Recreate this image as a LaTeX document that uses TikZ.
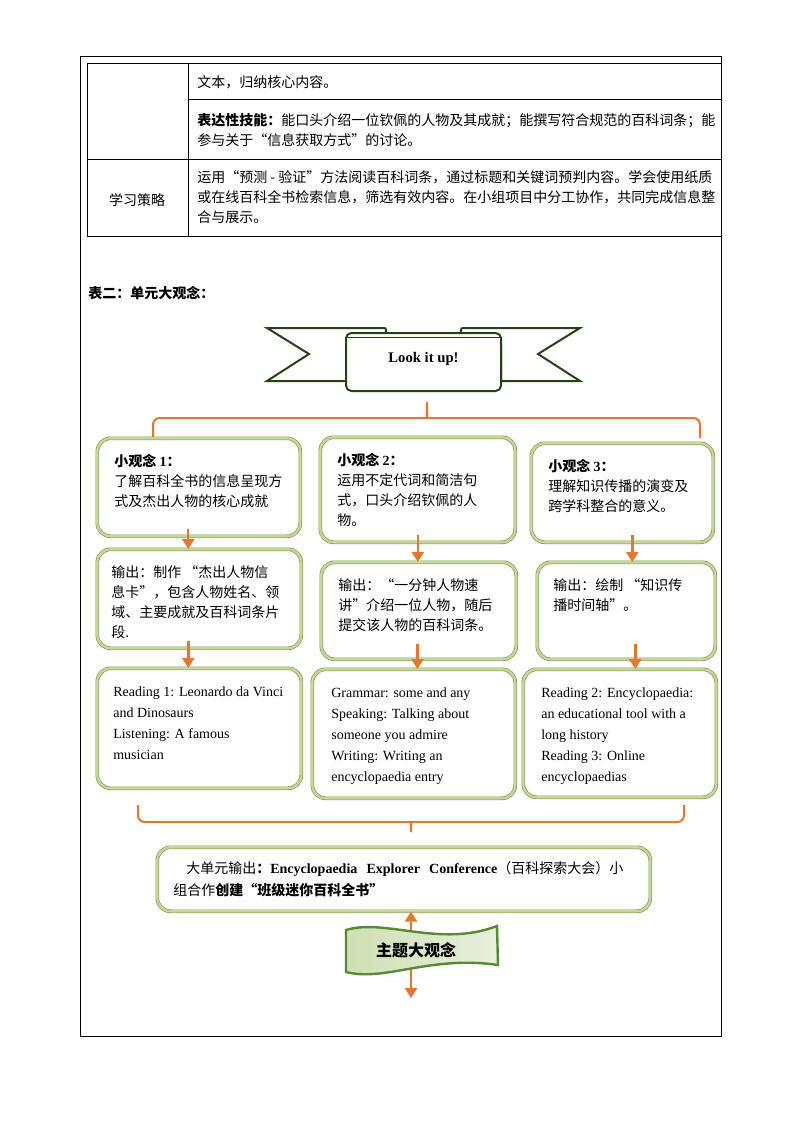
\documentclass[tikz,border=0pt]{standalone}
\usepackage{fontspec}
\setmainfont{Liberation Serif}
\newfontfamily\cjk{Noto Sans CJK SC}
\usetikzlibrary{arrows.meta}

\definecolor{brace}{RGB}{228,118,45}
\definecolor{boxdark}{RGB}{119,147,60}
\definecolor{boxlight}{RGB}{195,214,155}
\definecolor{ribbongreen}{RGB}{40,66,24}
\definecolor{waveline}{RGB}{88,138,52}
\definecolor{wavedark}{RGB}{206,224,178}
\definecolor{wavelight}{RGB}{232,239,222}

\tikzset{
  ideabox/.style={draw=boxdark, double=boxlight, double distance=1.8pt, line width=0.45pt,
    rounded corners=10pt, fill=white, anchor=north west, inner xsep=12.75pt, inner ysep=12pt},
  cjk text/.style={font=\cjk\fontsize{10.5}{15}\selectfont},
  latin text/.style={font=\fontsize{10.5}{15.75}\selectfont},
  body/.style={cjk text, inner sep=0pt, anchor=base west},
  flow/.style={draw=brace, line width=1.8pt, ->, shorten <=-6pt},
  bracket/.style={draw=brace, line width=1.5pt, rounded corners=5pt},
  ribbon/.style={draw=ribbongreen, line width=1.5pt, fill=white},
  tableline/.style={line width=0.75pt}
}
\newcommand{\boxlines}[3]{\parbox[t][#2][t]{#1}{\rule{0pt}{9.3pt}#3}}
\newcommand{\textlines}[1]{\parbox[t]{16cm}{#1}}

\begin{document}
\begin{tikzpicture}[x=0.75pt, y=-0.75pt, >={Triangle[width=9pt,length=7.5pt]}]
\useasboundingbox (0,0) rectangle (794,1123);

% page frame and table
\draw[tableline] (80,57) rectangle (721,1036);
\draw[tableline] (87,64) -- (721,64) (87,64) -- (87,237) (188,64) -- (188,237)
  (188,100) -- (721,100) (87,160) -- (721,160) (87,237) -- (721,237);

\node[body] (aim1) at (197,88) {文本，归纳核心内容。};
\node[body] (aim2) at (197,126) {\textlines{{\bfseries 表达性技能：}能口头介绍一位钦佩的人物及其成就；能撰写符合规范的百科词条；能\\参与关于“信息获取方式”的讨论。}};
\node[body] (method) at (197,183) {\textlines{运用“预测 - 验证”方法阅读百科词条，通过标题和关键词预判内容。学会使用纸质\\或在线百科全书检索信息，筛选有效内容。在小组项目中分工协作，共同完成信息整\\合与展示。}};
\node[cjk text, inner sep=0pt] (strategy) at (137,200) {学习策略};

\node[body] (title) at (88,298) {\bfseries 表二：单元大观念：};

% ribbon
\draw[ribbon] (267,328) -- (382,328) .. controls (386,328) .. (386,332) -- (386,345)
  -- (346,345) -- (346,381) -- (267,381) -- (309,354) -- cycle;
\draw[ribbon] (580,328) -- (465,328) .. controls (461,328) .. (461,332) -- (461,345)
  -- (501,345) -- (501,381) -- (580,381) -- (538,354) -- cycle;
\node[ribbon, rounded corners=4pt, minimum width=116.25pt, minimum height=43.5pt, inner sep=0pt,
  text height=7.5pt, text depth=7.5pt, font=\bfseries\fontsize{11}{13}\selectfont] (banner) at (423.5,362) {Look it up!};
\draw[draw=ribbongreen, line width=1.2pt] ([yshift=-4pt]banner.north west) -- ([yshift=-4pt]banner.north east);

\coordinate (split) at (427,398);
\coordinate (topL) at (153,438);
\coordinate (topR) at (700,438);
\draw[bracket] (topL) -- (153,418) -- (421,418) .. controls (426,418) and (427,413) .. (split)
  .. controls (427,413) and (428,418) .. (433,418) -- (700,418) -- (topR);

% three columns
\node[ideabox, cjk text] (idea1) at (97,438) {\boxlines{126.75pt}{49.5pt}{{\bfseries 小观念 {\rmfamily 1}：}\\了解百科全书的信息呈现方\\式及杰出人物的核心成就}};
\node[ideabox, cjk text, inner xsep=10.5pt] (out1) at (97,549) {\boxlines{132pt}{50.25pt}{输出：制作\ “杰出人物信\\息卡”，包含人物姓名、领\\域、主要成就及百科词条片\\段.}};
\node[ideabox, latin text, inner xsep=12pt] (res1) at (97,668) {\boxlines{129pt}{66pt}{Reading 1: Leonardo da Vinci\\and Dinosaurs\\Listening: A famous\\musician}};

\node[ideabox, cjk text] (idea2) at (320,437) {\boxlines{120.75pt}{54.75pt}{{\bfseries 小观念 {\rmfamily 2}：}\\运用不定代词和简洁句\\式，口头介绍钦佩的人\\物。}};
\node[ideabox, cjk text] (out2) at (321,562) {\boxlines{120.75pt}{48.75pt}{输出：“一分钟人物速\\讲”介绍一位人物，随后\\提交该人物的百科词条。}};
\node[ideabox, latin text, inner xsep=14.25pt] (res2) at (312,669) {\boxlines{123.75pt}{72.75pt}{Grammar: some and any\\Speaking: Talking about\\someone you admire\\Writing: Writing an\\encyclopaedia entry}};

\node[ideabox, cjk text] (idea3) at (531,443) {\boxlines{111pt}{50.25pt}{{\bfseries 小观念 {\rmfamily 3}：}\\理解知识传播的演变及\\跨学科整合的意义。}};
\node[ideabox, cjk text, inner xsep=12pt] (out3) at (537,562) {\boxlines{109.5pt}{48.75pt}{输出：绘制\ “知识传\\播时间轴”。}};
\node[ideabox, latin text, inner xsep=13.5pt] (res3) at (523,669) {\boxlines{117.75pt}{72pt}{Reading 2: Encyclopaedia:\\an educational tool with a\\long history\\Reading 3: Online\\encyclopaedias}};

\draw[flow] ([xshift=-7.9pt]idea1.south) -- ([xshift=-7.9pt]idea1.south |- out1.north);
\draw[flow] ([xshift=-8.25pt]out1.south) -- ([xshift=-8.25pt]out1.south |- res1.north);
\draw[flow] (idea2.south) -- (idea2.south |- out2.north);
\draw[flow, shorten <=-12pt] ([xshift=-1pt]out2.south) -- ([xshift=-1pt]out2.south |- res2.north);
\draw[flow] ([xshift=7.5pt]idea3.south) -- ([xshift=7.5pt]idea3.south |- out3.north);
\draw[flow, shorten <=-12pt] ([xshift=6.75pt]out3.south) -- ([xshift=6.75pt]out3.south |- res3.north);

\coordinate (joinL) at (138,805);
\coordinate (joinR) at (684,805);
\coordinate (merge) at (411,836);
\draw[bracket] (joinL) -- (138,822) -- (405,822) .. controls (410,822) and (411,826) .. (merge)
  .. controls (411,826) and (412,822) .. (417,822) -- (684,822) -- (joinR);

% unit output
\node[ideabox, font=\cjk\fontsize{10.5}{16.5}\selectfont, inner xsep=12pt, inner ysep=10.2pt] (unit) at (157,847)
  {\boxlines{345.75pt}{27.6pt}{\hspace*{9.75pt}\makebox[327.75pt][s]{大单元输出{\bfseries ：{\rmfamily Encyclopaedia Explorer Conference}}（百科探索大会）小}\\组合作{\bfseries 创建“班级迷你百科全书”}}};

\coordinate (stem) at (411,998);
\draw[draw=brace, line width=1.8pt, <->] (unit.south -| stem) -- (stem);
\draw[draw=waveline, line width=1.8pt, left color=wavedark, right color=wavelight]
  (346,930) .. controls (385,918) and (440,948) .. (497,926) -- (498,965)
  .. controls (430,955) and (385,982) .. (346,972) -- cycle;
\node[font=\cjk\bfseries\fontsize{12}{14}\selectfont] (theme) at (416,950) {主题大观念};
\end{tikzpicture}
\end{document}
